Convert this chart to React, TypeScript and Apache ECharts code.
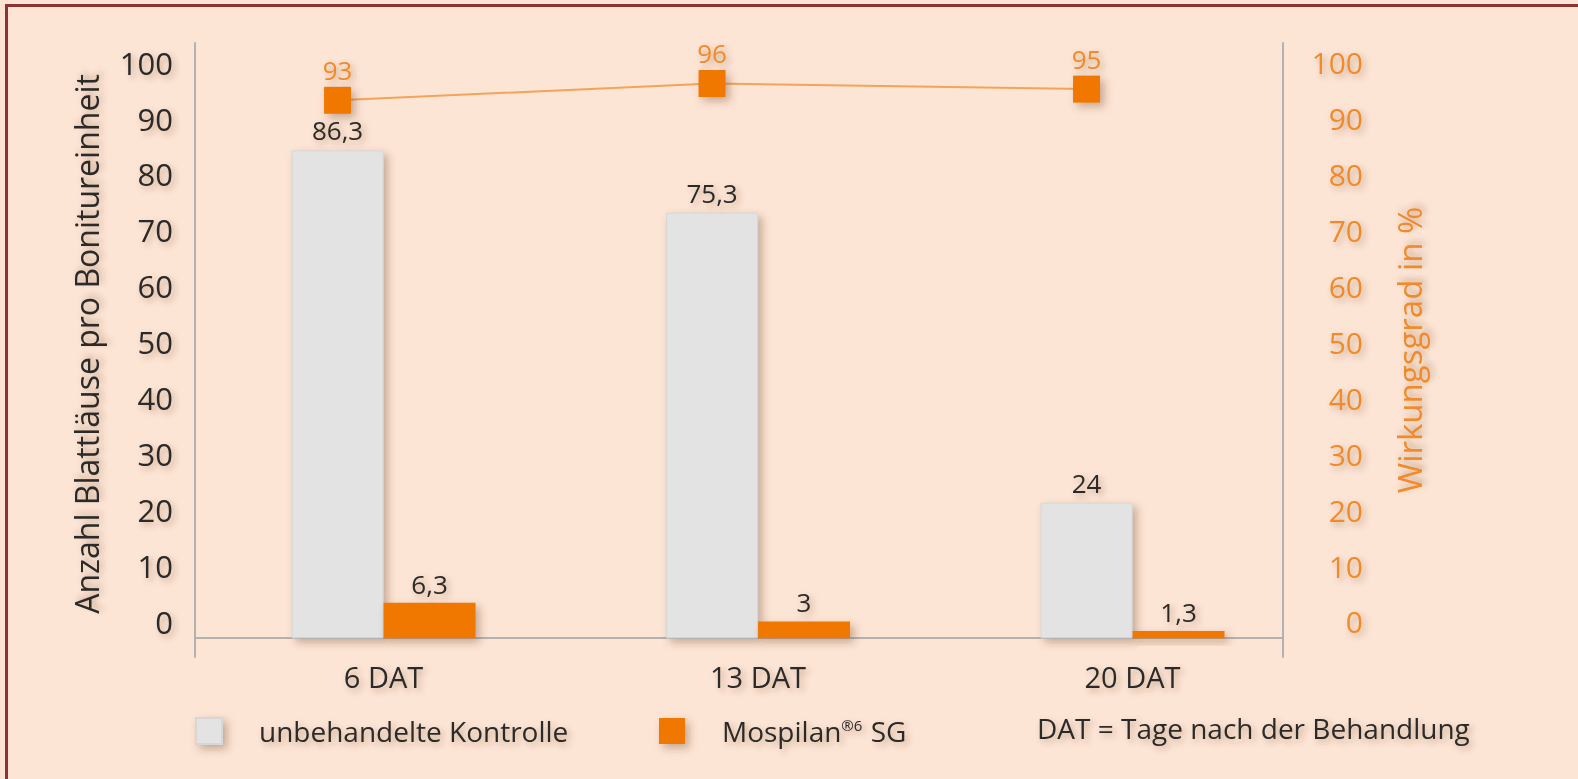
import React, { useEffect, useRef } from 'react';
import * as echarts from 'echarts';

const categories = ['6 DAT', '13 DAT', '20 DAT'];
const kontrolle = [86.3, 75.3, 24];
const mospilan = [6.3, 3, 1.3];
const wirkungsgrad = [93, 96, 95];
const tickValues = [0, 10, 20, 30, 40, 50, 60, 70, 80, 90, 100];
const seriesNames = ['unbehandelte Kontrolle', 'Mospilan®6 SG', 'Wirkungsgrad'];
const noteText = 'DAT = Tage nach der Behandlung';
const leftAxisName = 'Anzahl Blattläuse pro Bonitureinheit';
const rightAxisName = 'Wirkungsgrad in %';

const FONT = '"Open Sans", "Noto Sans", sans-serif';
const BG = '#fde5d5';
const DARK = '#2b2a29';
const ORANGE = '#f07800';
const ORANGE_TEXT = '#f08a2a';
const GREY_BAR = '#e2e3e2';
const AXIS = '#b4b2b0';

const textShadow = {
  textShadowColor: 'rgba(90,50,20,0.35)',
  textShadowBlur: 6,
  textShadowOffsetX: 3,
  textShadowOffsetY: 3,
};
const boxShadow = {
  shadowColor: 'rgba(90,50,20,0.35)',
  shadowBlur: 8,
  shadowOffsetX: 4,
  shadowOffsetY: 4,
};

const fmt = (v: number) => String(v).replace('.', ',');

export default function App() {
  const ref = useRef<HTMLDivElement>(null);
  useEffect(() => {
    if (!ref.current) return;
    const chart = echarts.init(ref.current, null, { renderer: 'svg' });
    const gridBox = { top: 43, height: 614, outerBoundsMode: 'none' };
    const legendText = {
      fontSize: 28,
      color: DARK,
      fontFamily: FONT,
      ...textShadow,
      rich: {
        sup: { fontSize: 15, verticalAlign: 'top', color: DARK, fontFamily: FONT, padding: [0, 1, 12, 0], ...textShadow },
      },
    };
    const labelMin = -6.26;
    const labelMax = 103.5;
    const option: any = {
      animation: false,
      backgroundColor: BG,
      textStyle: { fontFamily: FONT },
      grid: [
        { ...gridBox, left: 196.3, width: 1123.5 },
        { ...gridBox, left: 150.3, width: 1123.5 },
        { ...gridBox, left: 195, width: 1088 },
      ],
      title: {
        text: noteText,
        left: 1037,
        top: 714,
        padding: 0,
        textStyle: { fontSize: 28, fontWeight: 'normal', color: DARK, fontFamily: FONT, ...textShadow },
      },
      legend: [
        {
          data: [seriesNames[0]],
          left: 195,
          top: 717,
          padding: 0,
          icon: 'rect',
          itemWidth: 26,
          itemHeight: 26,
          itemStyle: { ...boxShadow },
          textStyle: { ...legendText, padding: [0, 0, 0, 32] },
          selectedMode: false,
        },
        {
          data: [seriesNames[1]],
          left: 659,
          top: 717,
          padding: 0,
          icon: 'rect',
          itemWidth: 26,
          itemHeight: 26,
          itemStyle: { ...boxShadow },
          formatter: () => 'Mospilan{sup|®6} SG',
          textStyle: { ...legendText, padding: [0, 0, 0, 32] },
          selectedMode: false,
        },
      ],
      xAxis: [
        {
          type: 'category',
          gridIndex: 0,
          data: categories,
          axisLine: { show: false, onZero: false },
          axisTick: { show: false },
          axisLabel: { fontSize: 29, color: DARK, margin: 5, fontFamily: FONT, ...textShadow },
        },
        { type: 'category', gridIndex: 1, data: categories, show: false },
        {
          type: 'category',
          gridIndex: 2,
          data: categories,
          axisLine: { show: true, onZero: false, lineStyle: { color: AXIS, width: 2 } },
          offset: -19,
          axisTick: { show: false },
          axisLabel: { show: false },
        },
      ],
      yAxis: [
        { type: 'value', gridIndex: 0, min: -3.3, max: 105.3, show: false, splitLine: { show: false } },
        { type: 'value', gridIndex: 1, min: -6.58, max: 103.25, show: false, splitLine: { show: false } },
        {
          type: 'value',
          gridIndex: 2,
          position: 'left',
          min: labelMin,
          max: labelMax,
          splitLine: { show: false },
          axisTick: { show: false },
          axisLine: { show: true, onZero: false, lineStyle: { color: AXIS, width: 2 } },
          axisLabel: {
            customValues: tickValues,
            fontSize: 31,
            color: DARK,
            margin: 22,
            fontFamily: FONT,
            ...textShadow,
          },
          name: leftAxisName,
          nameLocation: 'middle',
          nameGap: 93,
          nameTextStyle: { fontSize: 32, color: DARK, fontFamily: FONT, padding: [0, 0, 0, 12], ...textShadow },
        },
        {
          type: 'value',
          gridIndex: 2,
          position: 'right',
          min: labelMin,
          max: labelMax,
          splitLine: { show: false },
          axisTick: { show: false },
          axisLine: { show: true, onZero: false, lineStyle: { color: AXIS, width: 2 } },
          axisLabel: {
            customValues: tickValues,
            fontSize: 30,
            color: ORANGE_TEXT,
            margin: 80,
            align: 'right',
            fontFamily: FONT,
            ...textShadow,
          },
          name: rightAxisName,
          nameLocation: 'middle',
          nameGap: 110,
          nameTextStyle: { fontSize: 33, color: ORANGE_TEXT, fontFamily: FONT, ...textShadow },
        },
      ],
      series: [
        {
          name: seriesNames[0],
          type: 'bar',
          xAxisIndex: 0,
          yAxisIndex: 0,
          data: kontrolle,
          barWidth: 92,
          barGap: '0%',
          itemStyle: { color: GREY_BAR, borderColor: '#d6d7d6', borderWidth: 1, ...boxShadow },
          label: {
            show: true,
            position: 'top',
            distance: 7,
            fontSize: 26,
            color: DARK,
            fontFamily: FONT,
            formatter: (p: any) => fmt(p.value),
            ...textShadow,
          },
        },
        {
          name: seriesNames[1],
          type: 'bar',
          xAxisIndex: 0,
          yAxisIndex: 0,
          data: mospilan,
          barWidth: 92,
          barGap: '0%',
          itemStyle: { color: ORANGE, ...boxShadow },
          label: {
            show: true,
            position: 'top',
            distance: 6,
            fontSize: 26,
            color: DARK,
            fontFamily: FONT,
            formatter: (p: any) => fmt(p.value),
            ...textShadow,
          },
        },
        {
          name: seriesNames[2],
          type: 'line',
          xAxisIndex: 1,
          yAxisIndex: 1,
          data: wirkungsgrad,
          symbol: 'rect',
          symbolSize: 27,
          itemStyle: { color: ORANGE, ...boxShadow },
          lineStyle: { color: '#f4a35a', width: 2 },
          label: {
            show: true,
            position: 'top',
            distance: 4,
            fontSize: 26,
            color: ORANGE_TEXT,
            fontFamily: FONT,
            ...textShadow,
          },
          z: 5,
        },
      ],
    };
    chart.setOption(option);
    return () => chart.dispose();
  }, []);

  return (
    <div style={{ position: 'fixed', left: 0, top: 0, width: 1578, height: 779, background: BG }}>
      <div ref={ref} style={{ position: 'absolute', left: 0, top: 0, width: 1578, height: 779 }} />
      <div
        style={{
          position: 'absolute',
          left: 5,
          top: 4,
          right: 0,
          bottom: 0,
          borderLeft: '3px solid #8a3434',
          borderTop: '3px solid #8a3434',
          pointerEvents: 'none',
        }}
      />
    </div>
  );
}
